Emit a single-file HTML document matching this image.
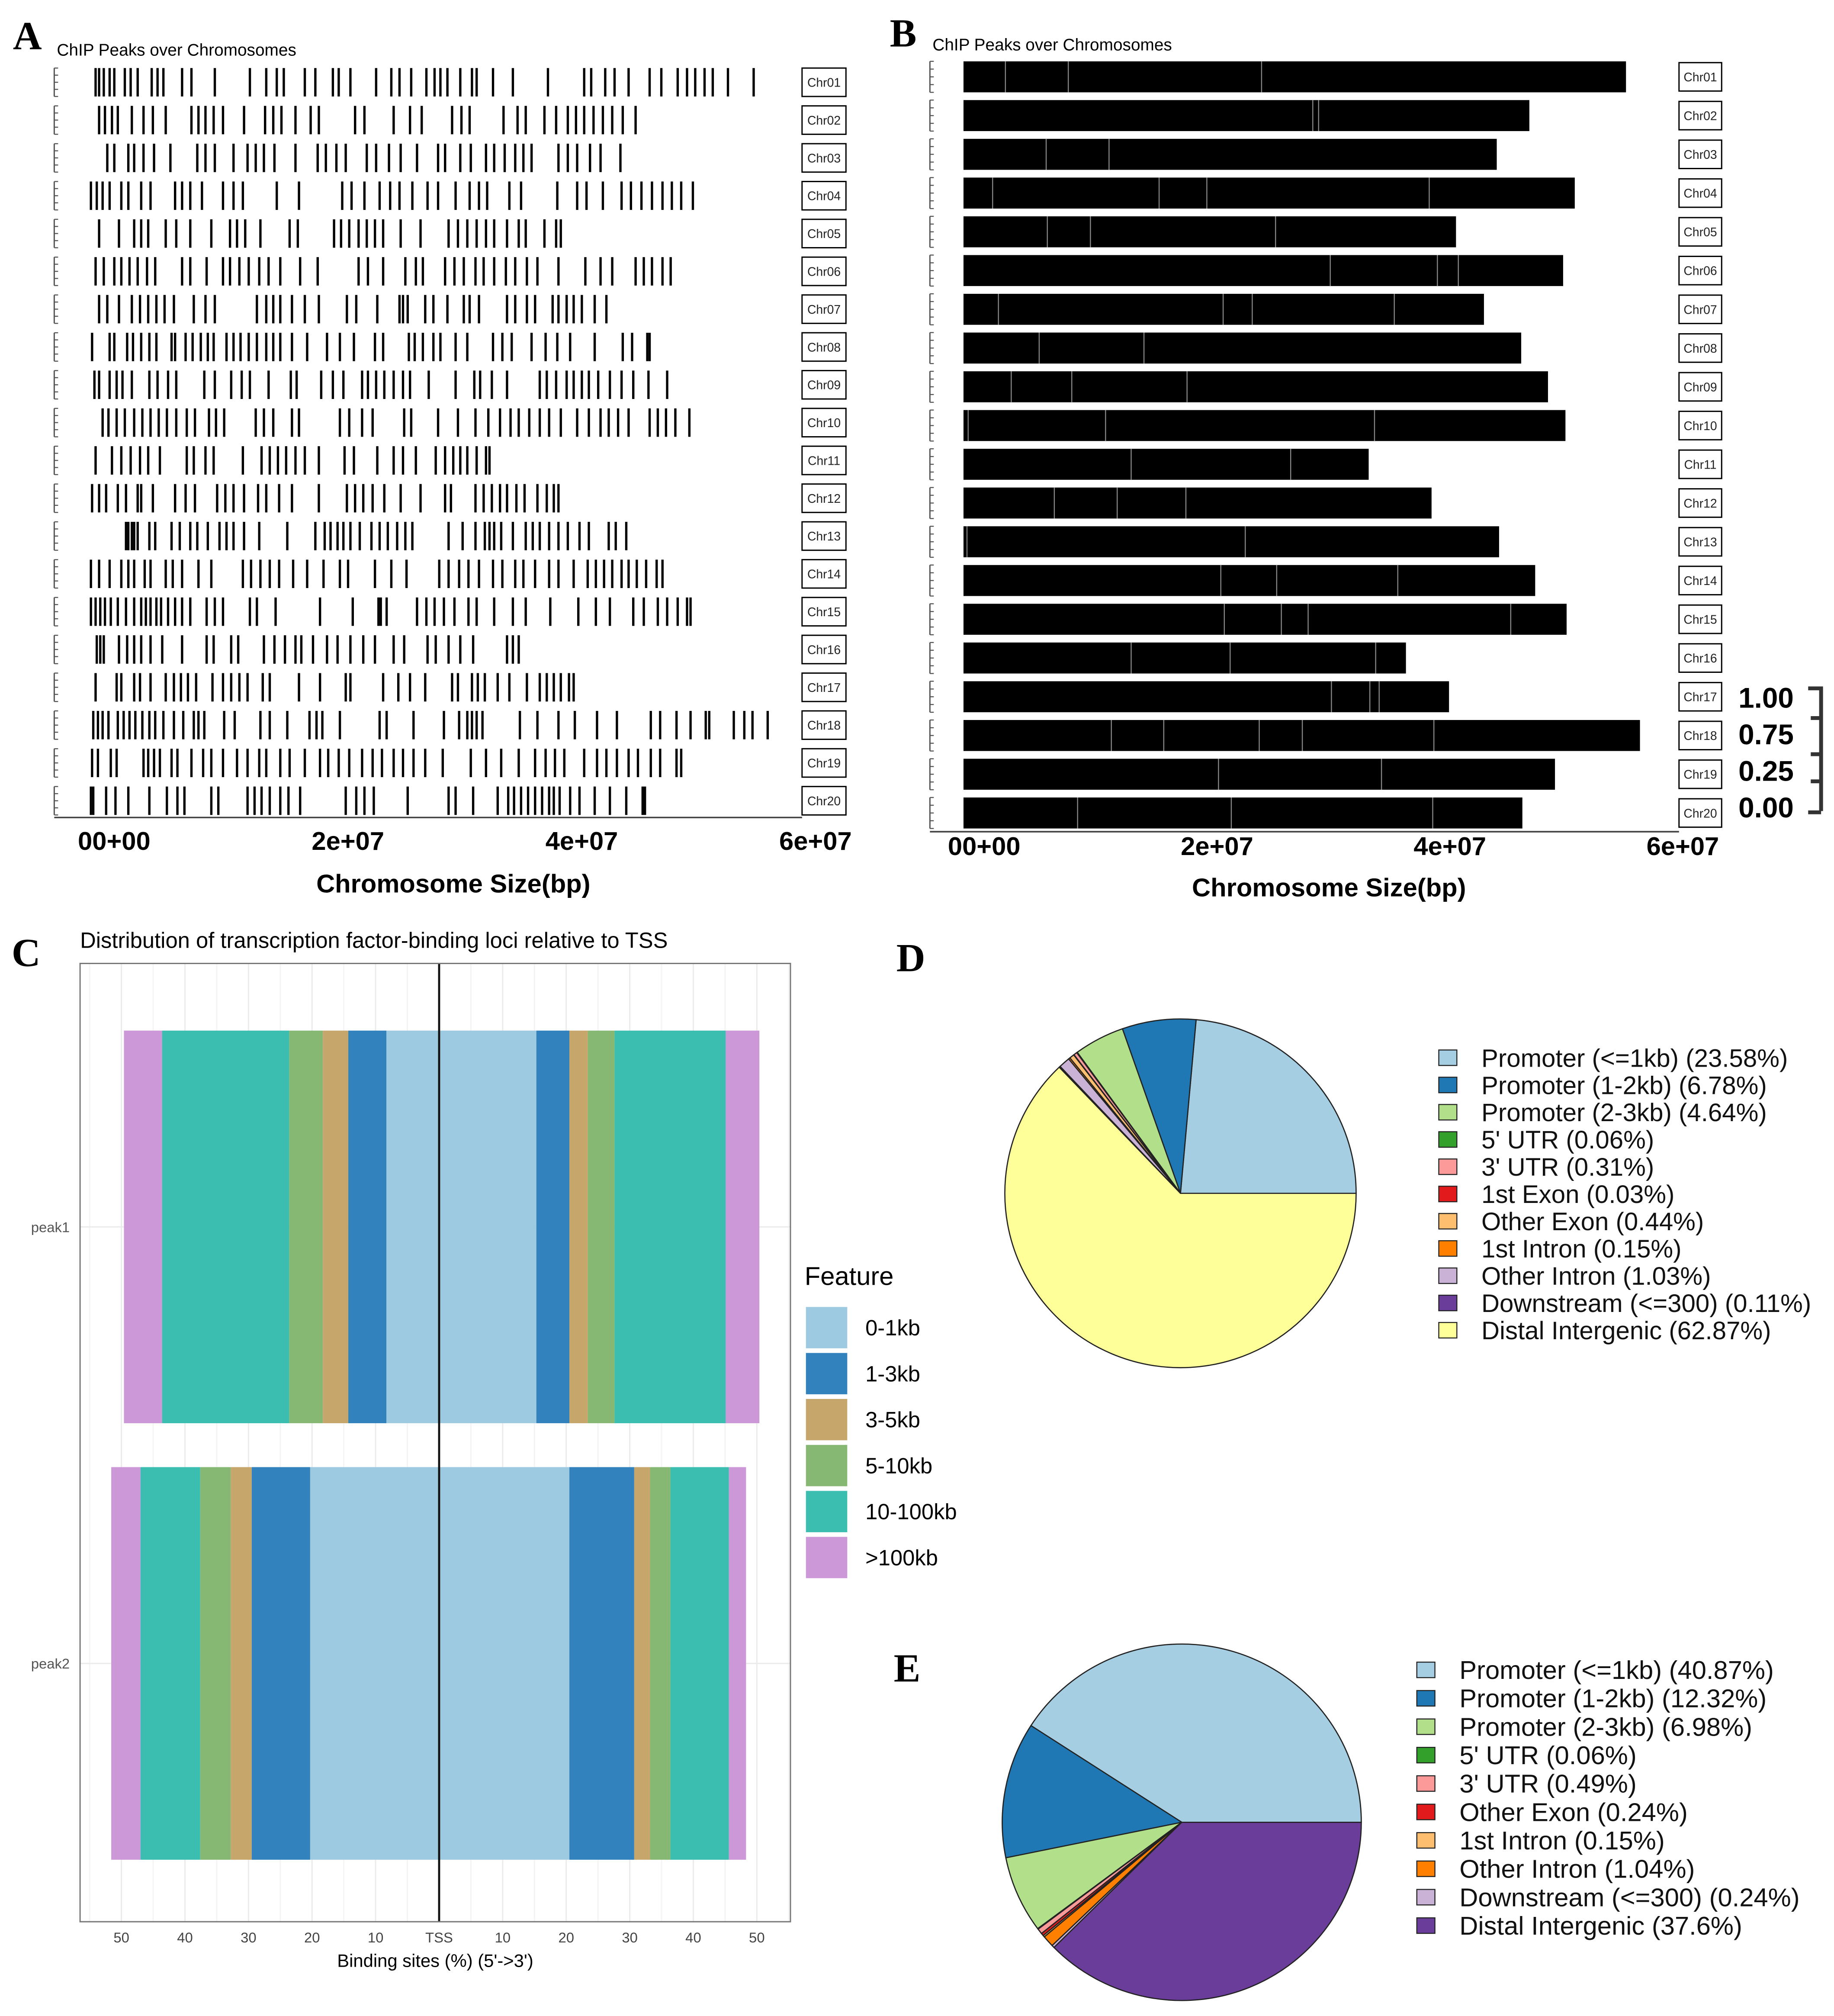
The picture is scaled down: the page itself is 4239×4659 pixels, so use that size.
<!DOCTYPE html>
<html><head><meta charset="utf-8">
<style>
html,body{margin:0;padding:0;background:#fff;}
svg{display:block;}
text{font-family:"Liberation Sans",sans-serif;}
.lab{font-family:"Liberation Serif",serif;font-weight:bold;font-size:31px;}
</style></head>
<body>
<svg id="fig" xmlns="http://www.w3.org/2000/svg" width="4239" height="4659" viewBox="0 0 1420 1561" preserveAspectRatio="none">
<rect x="0" y="0" width="1420" height="1561" fill="#fff"/>
<text class="lab" x="10" y="38">A</text>
<text class="lab" x="689" y="36">B</text>
<text class="lab" x="9" y="748">C</text>
<text class="lab" x="694" y="752">D</text>
<text class="lab" x="692" y="1302">E</text>
<g id="pa"></g>
<g id="pb"></g>
<g id="pc"></g>
<g id="pd"></g>
<g id="pe"></g>
</svg>
<script>
const NS="http://www.w3.org/2000/svg";
// ---- data ----
const chromNames=["Chr01","Chr02","Chr03","Chr04","Chr05","Chr06","Chr07","Chr08","Chr09","Chr10","Chr11","Chr12","Chr13","Chr14","Chr15","Chr16","Chr17","Chr18","Chr19","Chr20"];
const chromLengthsMb=[56.9,48.6,45.8,52.5,42.3,51.5,44.7,47.9,50.2,51.7,34.8,40.2,46.0,49.1,51.8,38.0,41.7,58.1,50.8,48.0];
const xTickValues=[0,20,40,60];
const xTickLabels=["00+00","2e+07","4e+07","6e+07"];
const peaksA=[
[0.4,0.7,1.1,1.6,2.0,2.9,3.4,4.0,5.2,5.7,6.2,7.8,8.6,10.6,13.6,15.0,15.9,16.5,18.3,19.2,20.7,21.2,22.2,24.4,25.7,26.4,27.4,28.7,29.4,29.9,30.5,31.6,32.6,33.0,34.4,36.1,39.1,42.2,42.8,44.0,44.8,46.0,47.8,48.8,50.2,51.0,51.7,52.5,53.2,54.5,56.7],
[0.7,1.2,1.8,2.3,3.5,4.5,5.3,6.4,8.6,9.2,9.8,10.5,11.3,13.1,14.9,15.6,16.3,17.5,18.8,19.5,22.6,23.4,25.9,27.3,28.3,30.9,31.7,32.4,35.3,36.5,37.2,38.8,39.8,40.8,41.5,42.2,43.0,43.8,44.6,45.5,46.6],
[1.4,2.0,3.2,3.7,4.5,5.4,6.8,9.1,9.8,10.6,12.2,13.4,14.1,14.8,15.7,17.5,19.4,20.1,21.0,21.8,23.6,24.4,25.5,26.5,27.9,29.7,30.3,31.6,32.5,33.8,34.5,35.4,36.3,37.0,37.7,40.0,40.8,41.6,42.7,43.6,45.3],
[0,0.5,1.0,1.6,2.6,3.2,4.3,5.1,7.2,7.8,8.5,9.5,11.3,12.2,13.0,15.9,17.8,21.5,22.3,23.4,24.7,25.6,26.4,27.5,28.8,29.7,31.2,32.4,33.2,33.9,35.8,36.8,39.9,41.6,42.4,43.8,45.4,46.2,47.1,48.0,48.9,49.7,50.5,51.5],
[0.7,2.4,3.7,4.3,4.9,6.4,7.3,8.5,10.3,11.9,12.5,13.2,14.5,17.0,17.7,20.8,21.4,22.1,22.9,23.6,24.3,25.0,26.5,28.2,30.6,31.4,32.2,33.0,33.8,34.5,35.6,36.6,37.2,38.8,39.8,40.2],
[0.4,1.1,2.0,2.6,3.3,4.0,4.8,5.5,7.8,8.5,9.9,11.3,11.9,12.7,13.5,14.4,15.2,16.2,17.9,19.4,22.9,23.7,25.0,26.9,27.8,28.4,30.3,31.1,31.9,32.9,33.6,34.5,35.5,36.3,37.3,38.2,40.0,42.3,43.6,44.6,46.6,47.3,48.0,48.9,49.6],
[0.7,1.4,2.4,3.5,4.2,4.9,5.6,6.3,7.1,8.8,9.8,10.6,14.2,15.0,15.6,16.2,17.2,18.3,19.5,21.9,22.7,24.5,26.4,26.7,27.1,28.6,29.3,30.5,31.9,32.4,33.2,35.6,36.3,37.3,38.0,39.5,40.0,40.7,41.3,42.0,43.1,44.1],
[0.1,1.6,2.0,3.1,3.6,4.3,5.0,5.6,6.9,7.2,8.1,8.7,9.4,10.0,10.5,11.6,12.2,12.8,13.5,14.2,15.0,15.6,16.2,17.2,18.5,20.2,21.3,22.5,24.3,25.0,27.2,27.7,28.4,29.3,29.9,31.2,32.2,34.4,35.2,36.0,37.7,38.9,39.9,41.0,43.1,45.5,46.3,47.6,47.8],
[0.3,0.7,1.6,2.2,2.7,3.5,5.0,5.7,6.6,7.3,9.7,10.6,12.0,12.9,13.6,15.2,17.1,17.6,19.7,20.7,21.6,23.2,23.7,24.4,25.1,25.9,26.7,27.3,28.9,31.2,32.8,33.3,34.3,35.6,38.4,39.0,39.8,40.7,41.3,42.0,42.6,43.4,44.4,45.4,46.4,47.7,49.3],
[1.0,1.5,2.2,2.9,3.7,4.4,5.1,5.8,6.5,7.3,8.2,8.9,10.1,10.7,11.4,14.1,14.8,15.6,17.2,17.8,21.3,22.1,23.2,24.1,26.8,27.4,29.7,31.4,32.9,34.0,35.0,35.9,36.6,37.5,38.4,39.2,40.2,41.6,42.6,43.6,44.3,45.1,46.0,47.8,48.5,49.2,50.0,51.2],
[0.4,1.8,2.6,3.4,4.2,4.9,5.9,8.2,8.8,9.8,10.5,13.0,14.6,15.3,16.0,16.7,17.5,18.3,19.5,21.7,22.5,24.5,25.9,26.7,27.8,29.5,30.3,31.0,31.6,32.2,33.0,33.8,34.1],
[0.1,0.7,1.3,2.3,3.0,4.0,4.3,5.3,7.2,8.1,8.9,10.8,11.5,12.2,13.1,14.3,15.0,16.1,17.2,19.5,21.9,22.6,23.3,24.1,25.1,26.5,28.2,30.3,30.8,32.9,33.6,34.3,35.0,35.6,36.4,37.1,38.2,39.0,39.6,40.0],
[3.0,3.2,3.5,3.7,4.0,5.0,5.5,6.9,7.6,8.5,9.1,10.0,11.0,11.6,12.2,13.1,14.4,16.8,19.2,20.0,20.5,21.1,21.6,22.2,23.0,24.0,24.7,25.4,26.2,26.9,27.5,30.6,31.8,32.9,33.7,34.1,34.5,35.1,36.1,37.2,37.8,38.4,39.2,40.0,40.8,41.8,42.6,44.3,44.9,45.8],
[0,0.7,1.6,2.6,3.2,3.7,4.6,5.1,6.4,7.0,7.8,9.2,10.3,13.0,13.7,14.5,15.3,16.1,17.3,18.5,19.9,21.3,22.0,24.3,25.7,27.0,29.8,30.6,31.5,32.3,33.2,34.4,35.2,36.3,37.0,38.0,39.2,40.0,41.3,42.5,43.2,43.9,44.6,45.4,46.0,46.7,47.5,48.4,48.9],
[0,0.4,0.8,1.2,1.7,2.3,3.0,3.7,4.3,4.7,5.1,5.6,6.0,6.6,7.2,7.8,8.5,9.9,10.6,11.3,13.6,14.2,15.8,19.6,22.4,24.6,24.8,25.3,27.9,28.7,29.4,30.2,31.1,32.3,33.0,34.5,36.1,37.2,39.3,41.7,43.2,44.4,46.4,47.3,48.5,49.3,50.2,51.0,51.3],
[0.5,0.8,1.1,2.4,3.1,3.7,4.3,5.1,6.1,7.8,9.9,10.5,12.0,12.6,14.8,15.7,16.6,17.5,18.0,19.0,20.2,21.1,22.2,23.3,24.3,25.9,26.8,28.8,29.5,30.6,31.6,32.7,35.6,36.1,36.6],
[0.4,2.2,2.6,3.7,4.2,5.1,6.4,7.1,7.7,8.3,9.0,10.4,11.3,12.0,12.7,13.4,14.7,15.3,17.8,19.6,21.8,22.2,25.0,26.3,27.3,28.6,30.9,31.4,32.6,33.1,33.7,34.8,35.8,37.3,38.4,39.0,39.6,40.2,40.9,41.3],
[0.2,0.6,1.0,1.5,2.3,2.8,3.3,3.8,4.4,5.0,5.5,6.2,7.1,7.9,8.8,9.2,9.7,11.4,12.3,14.5,15.3,16.8,18.7,19.3,19.8,21.3,24.7,25.3,27.6,30.2,31.5,32.2,32.6,33.0,33.5,36.7,38.2,40.0,41.4,43.3,45.0,47.9,48.7,50.1,51.3,52.6,52.9,55.0,55.9,56.6,57.9],
[0.1,0.6,1.7,2.2,4.5,4.9,5.4,5.9,6.9,7.4,8.6,9.6,10.3,11.3,12.5,13.4,14.4,15.0,16.2,17.0,18.3,19.6,20.3,21.2,22.1,23.2,24.1,24.9,25.9,26.7,27.6,28.6,30.1,32.5,33.8,35.1,36.6,38.0,38.9,39.7,40.5,42.2,43.3,44.1,45.0,46.0,46.8,47.9,48.7,50.1,50.5],
[0,0.2,1.3,2.1,3.2,5.0,6.5,7.4,8.0,10.3,10.9,13.4,14.0,14.6,15.3,16.2,16.9,17.9,21.8,22.7,23.4,24.2,27.1,30.6,31.2,32.7,34.8,35.7,36.2,36.8,37.4,38.0,38.6,39.2,39.6,40.1,41.0,41.8,43.1,44.4,45.8,47.2,47.4]];
const gapsB=[[3.6,9.0,25.6],[30.0,30.5],[7.1,12.5],[2.5,16.8,20.9,40.0],[7.2,10.9,26.8],[31.5,40.7,42.5],[3.0,22.3,24.8,37.0],[6.5,15.5],[4.1,9.3,19.2],[0.4,12.2,35.3],[14.4,28.1],[7.8,13.2,19.1],[0.3,24.2],[22.1,26.9,37.3],[22.4,27.3,29.6,47.0],[14.4,22.9,35.4],[31.6,34.9,35.7],[12.7,17.2,25.4,29.1,40.4],[21.9,35.9],[9.8,23.0,40.3]];
// panel C
const cFeatures=["0-1kb","1-3kb","3-5kb","5-10kb","10-100kb",">100kb"];
const cRows=["peak1","peak2"];
const cLeftPeak1=[8.3,6.0,4.0,5.3,20.0,6.0];
const cRightPeak1=[15.3,5.2,2.9,4.2,17.5,5.3];
const cLeftPeak2=[20.3,9.2,3.3,4.8,9.4,4.6];
const cRightPeak2=[20.5,10.2,2.5,3.2,9.2,2.7];
const cTickVals=[-50,-40,-30,-20,-10,0,10,20,30,40,50];
const cTickLabels=["50","40","30","20","10","TSS","10","20","30","40","50"];
// panel D / E
const dLabels=["Promoter (<=1kb)","Promoter (1-2kb)","Promoter (2-3kb)","5' UTR","3' UTR","1st Exon","Other Exon","1st Intron","Other Intron","Downstream (<=300)","Distal Intergenic"];
const dValues=[23.58,6.78,4.64,0.06,0.31,0.03,0.44,0.15,1.03,0.11,62.87];
const eLabels=["Promoter (<=1kb)","Promoter (1-2kb)","Promoter (2-3kb)","5' UTR","3' UTR","Other Exon","1st Intron","Other Intron","Downstream (<=300)","Distal Intergenic"];
const eValues=[40.87,12.32,6.98,0.06,0.49,0.24,0.15,1.04,0.24,37.6];
const eValueLabels=["40.87","12.32","6.98","0.06","0.49","0.24","0.15","1.04","0.24","37.6"];

function mk(parent,tag,attrs,txt){const e=document.createElementNS(NS,tag);for(const k in attrs)e.setAttribute(k,attrs[k]);if(txt!==undefined)e.textContent=txt;parent.appendChild(e);return e;}

function drawPeaks(g,cfg,isB){
  const xs=v=>cfg.x0+v/20*cfg.step;
  const ys=i=>cfg.y0+i*cfg.dy;
  let t=mk(g,"text",{x:cfg.titleX,y:cfg.titleY,"font-size":13},"ChIP Peaks over Chromosomes");
  
  
  chromNames.forEach((nm,i)=>{
    const cy=ys(i);
    for(let k=0;k<5;k++){const tk=mk(g,"line",{x1:cfg.axL,x2:cfg.axL+3,y1:cy-cfg.h/2+k*cfg.h/4,y2:cy-cfg.h/2+k*cfg.h/4,stroke:"#555","stroke-width":0.8});
      
      }
    const vl=mk(g,"line",{x1:cfg.axL,x2:cfg.axL,y1:cy-cfg.h/2,y2:cy+cfg.h/2,stroke:"#555","stroke-width":1});
    
    
    if(isB){
      const r=mk(g,"rect",{x:xs(0),y:cy-cfg.h/2,width:xs(chromLengthsMb[i])-xs(0),height:cfg.h,fill:"#000"});
      
      
      gapsB[i].forEach(v=>{const l=mk(g,"line",{x1:xs(v),x2:xs(v),y1:cy-cfg.h/2,y2:cy+cfg.h/2,stroke:"#888","stroke-width":0.8});
        
        });
    } else {
      peaksA[i].forEach(v=>{const l=mk(g,"rect",{x:xs(v)-0.9,y:cy-cfg.h/2,width:1.8,height:cfg.h,fill:"#000"});
        
        });
    }
    const bx=mk(g,"rect",{x:cfg.boxX,y:cy-11,width:cfg.boxW,height:22,fill:"#fff",stroke:"#000","stroke-width":1});
    
    
    const lt=mk(g,"text",{x:cfg.boxX+cfg.boxW/2,y:cy+3.5,"font-size":9.5,"text-anchor":"middle",fill:"#222"},nm);
    
    
  });
  const ax=mk(g,"line",{x1:cfg.axL,x2:cfg.boxX,y1:cfg.axY,y2:cfg.axY,stroke:"#444","stroke-width":1.2});
  
  
  xTickValues.forEach((v,k)=>{
    const tl=mk(g,"text",{x:xs(v)+cfg.lblOff,y:cfg.tickY,"font-size":20,"font-weight":"bold","text-anchor":"middle"},xTickLabels[k]);
    
    
  });
  const at=mk(g,"text",{x:cfg.titleCX,y:cfg.axTitleY,"font-size":20,"font-weight":"bold","text-anchor":"middle"},"Chromosome Size(bp)");
  
  
}
drawPeaks(document.getElementById("pa"),{x0:70.4,step:181,y0:63.7,dy:29.28,h:22,axL:42,boxX:621,boxW:34,axY:633,tickY:658,axTitleY:691,titleX:44,titleY:43,titleCX:351,lblOff:18},false);
drawPeaks(document.getElementById("pb"),{x0:746,step:180.3,y0:59.5,dy:30.0,h:24,axL:720,boxX:1300,boxW:33,axY:644,tickY:662,axTitleY:694,titleX:722,titleY:39,titleCX:1029,lblOff:16},true);
(function(){const g=document.getElementById("pb");
  ["1.00","0.75","0.25","0.00"].forEach((s,k)=>{const t=mk(g,"text",{x:1346,y:548+k*28.3,"font-size":22,"font-weight":"bold"},s);
    
    });
  const p=mk(g,"path",{d:"M1400 533 H1410 V628 M1402 556 H1410 M1402 584 H1410 M1402 605 H1410 M1400 629 H1410",stroke:"#333","stroke-width":3,fill:"none"});
  
  
})();

(function(){
  const g=document.getElementById("pc");
  const cColors=["#9ecae1","#3182bd","#c6a66b","#86b874","#3bbdb0","#cd98d8"];
  const L=62,R=612,T=746,B=1488,tss=340,pp=4.92;
  const xs=v=>tss+v*pp;
  const t=mk(g,"text",{x:62,y:734,"font-size":17},"Distribution of transcription factor-binding loci relative to TSS");
  
  
  const bg=mk(g,"rect",{x:L,y:T,width:R-L,height:B-T,fill:"#fff"});
  
  
  for(let v=-55;v<=55;v+=5){const gl=mk(g,"line",{x1:xs(v),x2:xs(v),y1:T,y2:B,stroke:v%10===0?"#ebebeb":"#f4f4f4","stroke-width":1});
    
    }
  const rowsY=[950,1288];
  rowsY.forEach(y=>{const gl=mk(g,"line",{x1:L,x2:R,y1:y,y2:y,stroke:"#ebebeb"});
    
    });
  const sets=[[cLeftPeak1,cRightPeak1],[cLeftPeak2,cRightPeak2]];
  sets.forEach((s,r)=>{
    const y0=rowsY[r]-152,h=304;
    [-1,1].forEach((dir,side)=>{
      let acc=0;
      s[side].forEach((w,k)=>{
        const a=xs(dir*acc),b=xs(dir*(acc+w));
        const rc=mk(g,"rect",{x:Math.min(a,b),y:y0,width:Math.abs(b-a),height:h,fill:cColors[k]});
        
        
        acc+=w;
      });
    });
    const lb=mk(g,"text",{x:54,y:rowsY[r]+4,"font-size":11,"text-anchor":"end",fill:"#555"},cRows[r]);
    
    
  });
  const tl=mk(g,"line",{x1:tss,x2:tss,y1:T,y2:B,stroke:"#111","stroke-width":1.6});
  
  
  const fr=mk(g,"rect",{x:L,y:T,width:R-L,height:B-T,fill:"none",stroke:"#777","stroke-width":1});
  
  
  cTickVals.forEach((v,k)=>{const tx=mk(g,"text",{x:xs(v),y:1504,"font-size":11,"text-anchor":"middle",fill:"#444"},cTickLabels[k]);
    
    });
  const xt=mk(g,"text",{x:337,y:1523,"font-size":14,"text-anchor":"middle"},"Binding sites (%) (5'->3')");
  
  
  const lt=mk(g,"text",{x:623,y:995,"font-size":20},"Feature");
  
  
  cFeatures.forEach((f,k)=>{const cy=1028+k*35.6;
    const sw=mk(g,"rect",{x:624,y:cy-16,width:32,height:32,fill:cColors[k]});
    
    
    const tx=mk(g,"text",{x:670,y:cy+6,"font-size":17},f);
    
    });
})();

function drawPie(g,labels,values,colors,cx,cy,rx,ry,legX,legY,legDy,fs,valStrs){
  const tot=values.reduce((a,b)=>a+b,0);
  let a0=0;
  values.forEach((v,k)=>{
    const a1=a0+v/tot*2*Math.PI;
    const p0=[cx+rx*Math.cos(a0),cy-ry*Math.sin(a0)],p1=[cx+rx*Math.cos(a1),cy-ry*Math.sin(a1)];
    const large=(a1-a0)>Math.PI?1:0;
    const pth=mk(g,"path",{d:`M${cx} ${cy} L${p0[0]} ${p0[1]} A${rx} ${ry} 0 ${large} 0 ${p1[0]} ${p1[1]} Z`,fill:colors[k],stroke:"#222","stroke-width":0.9});
    
    
    a0=a1;
  });
  labels.forEach((l,k)=>{const y=legY+k*legDy;
    const sw=mk(g,"rect",{x:legX,y:y-6,width:14,height:12,fill:colors[k],stroke:"#222","stroke-width":0.8});
    
    
    const tx=mk(g,"text",{x:legX+33,y:y+7,"font-size":fs,fill:"#111"},l+" ("+(valStrs?valStrs[k]:values[k].toFixed(2))+"%)");
    
    });
}
drawPie(document.getElementById("pd"),dLabels,dValues,["#a6cee3","#1f78b4","#b2df8a","#33a02c","#fb9a99","#e31a1c","#fdbf6f","#ff7f00","#cab2d6","#6a3d9a","#ffff99"],914,924,136,135,1114,819,21.1,19.5);
drawPie(document.getElementById("pe"),eLabels,eValues,["#a6cee3","#1f78b4","#b2df8a","#33a02c","#fb9a99","#e31a1c","#fdbf6f","#ff7f00","#cab2d6","#6a3d9a"],915,1411,139,138,1097,1293,22,20,eValueLabels);
</script>
</body></html>
